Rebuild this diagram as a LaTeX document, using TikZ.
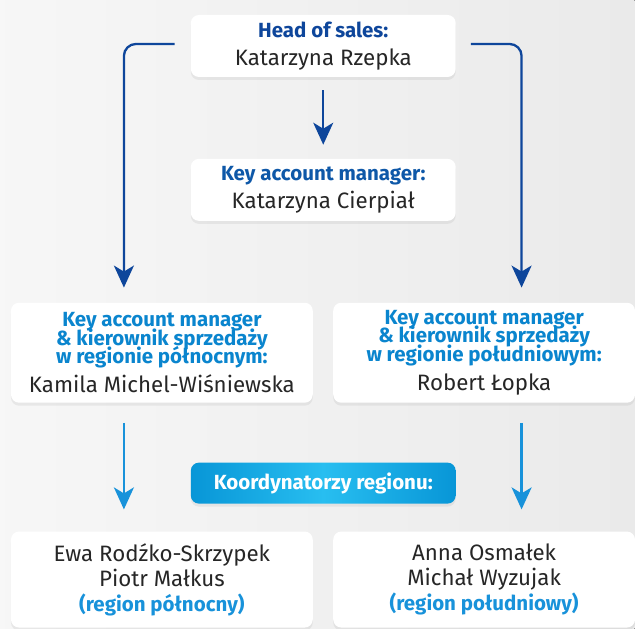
\documentclass[tikz,border=0pt]{standalone}
\usepackage{fontspec}
\setmainfont{Fira Sans}
\usetikzlibrary{arrows.meta, shadows}
\definecolor{headblue}{RGB}{14,70,155}
\definecolor{kamblue}{RGB}{14,88,168}
\definecolor{regblue}{RGB}{10,133,206}
\definecolor{lowblue}{RGB}{24,146,218}
\definecolor{koordblue}{RGB}{8,150,215}
\definecolor{koordlight}{RGB}{40,190,240}
\definecolor{bggray}{RGB}{234,234,234}
\newcommand{\tightlines}{\lineskiplimit=-20pt\relax}
\tikzstyle{box} = [rectangle, rounded corners=8pt, fill=white, text centered, align=center, inner sep=0pt, text=black!85,
  drop shadow={opacity=0.12, shadow xshift=0pt, shadow yshift=-3pt}]
\tikzstyle{topbox} = [box, minimum width=265pt, minimum height=62pt, font=\fontsize{20.5}{18.5}\selectfont\tightlines]
\tikzstyle{midbox} = [box, minimum width=302pt, minimum height=100pt, font=\fontsize{20.5}{18.5}\selectfont\tightlines]
\tikzstyle{lowbox} = [box, minimum width=302pt, minimum height=96pt, font=\fontsize{22.3}{25}\selectfont\tightlines]
\tikzstyle{koord} = [rectangle, rounded corners=8pt, left color=koordblue, right color=koordblue, middle color=koordlight,
  minimum width=265pt, minimum height=41pt, text=white, font=\fontsize{20.5}{18.5}\selectfont\bfseries,
  drop shadow={opacity=0.12, shadow xshift=0pt, shadow yshift=-3pt}]
\tikzstyle{darrow} = [line width=2.3pt, draw=headblue, -{Stealth[length=22pt, width=20pt, inset=6pt]}]
\tikzstyle{larrow} = [line width=2.3pt, draw=lowblue, -{Stealth[length=22pt, width=20pt, inset=6pt]}]
\newcommand{\nm}[1]{{\fontsize{22.3}{25}\selectfont #1}}
\begin{document}
\begin{tikzpicture}[x=1pt, y=-1pt]
            \fill [left color=white!60!bggray, right color=bggray] (0,0) rectangle (635,629);
            \node [topbox] at (323.5,46) (head) {\textcolor{headblue}{\bfseries Head of sales:}\\[9.5pt]\nm{Katarzyna Rzepka}};
            \node [topbox] at (323.5,190) (kam) {\textcolor{kamblue}{\bfseries Key account manager:}\\[9.5pt]\nm{Katarzyna Cierpiał}};
            \node [midbox] at (162,353) (north) {\color{regblue}\bfseries Key account manager\\ \color{regblue}\bfseries \& kierownik sprzedaży\\ \color{regblue}\bfseries w regionie północnym:\\[10.5pt]\nm{Kamila Michel-Wiśniewska}};
            \node [midbox] at (484.5,353) (south) {\color{regblue}\bfseries Key account manager\\ \color{regblue}\bfseries \& kierownik sprzedaży\\ \color{regblue}\bfseries w regionie południowym:\\[10.5pt]\nm{Robert Łopka}};
            \node [koord] at (323.5,483.5) (koord) {Koordynatorzy regionu:};
            \node [lowbox] at (162,580) (ngroup) {Ewa Rodźko-Skrzypek\\ Piotr Małkus\\ \textcolor{lowblue}{\fontsize{20.5}{25}\selectfont\bfseries (region północny)}};
            \node [lowbox] at (484.5,580) (sgroup) {Anna Osmałek\\ Michał Wyzujak\\ \textcolor{lowblue}{\fontsize{20.5}{25}\selectfont\bfseries (region południowy)}};
            \draw [darrow, shorten <=13pt, shorten >=14pt] (head) -- (kam);
            \draw [darrow, rounded corners=12pt] ([xshift=-16pt,yshift=2pt]head.west) -| ([xshift=-38pt,yshift=15pt]north.north);
            \draw [darrow, rounded corners=12pt] ([xshift=15pt,yshift=2pt]head.east) -| ([xshift=37.5pt,yshift=15pt]south.north);
            \draw [larrow] ([xshift=-38pt,yshift=-20pt]north.south) -- ([xshift=-38pt,yshift=22pt]ngroup.north);
            \draw [larrow] ([xshift=37.5pt,yshift=-20pt]south.south) -- ([xshift=37.5pt,yshift=22pt]sgroup.north);
            \end{tikzpicture}
\end{document}
